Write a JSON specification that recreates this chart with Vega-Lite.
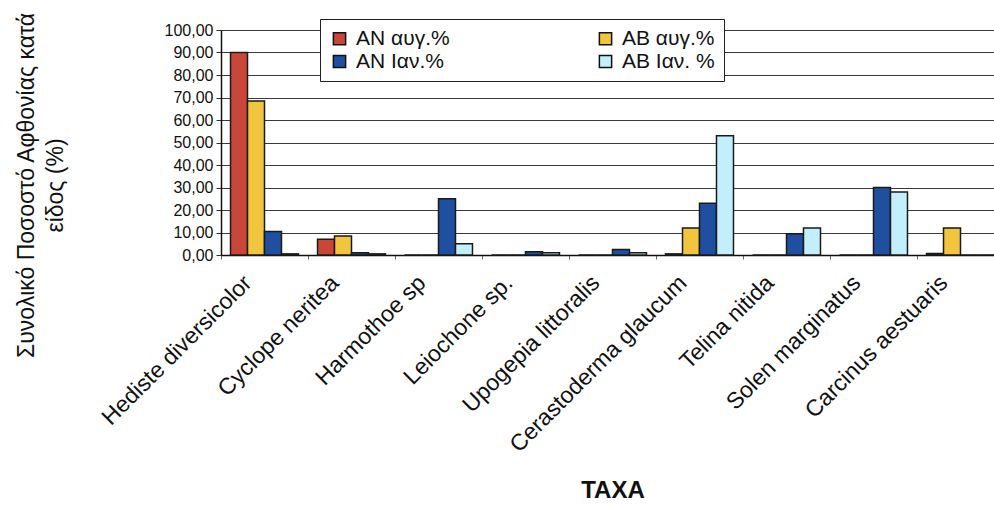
{
  "$schema": "https://vega.github.io/schema/vega-lite/v6.json",
  "width": 773,
  "height": 225,
  "autosize": {"type": "none"},
  "padding": {"left": 221, "top": 30, "right": 0, "bottom": 251},
  "background": "white",
  "config": {
    "locale": {"number": {"decimal": ",", "thousands": ".", "grouping": [3], "currency": ["", " €"]}},
    "view": {"stroke": null},
    "font": "Liberation Sans"
  },
  "data": {
    "values": [
      {"taxon": "Hediste diversicolor", "series": "AN αυγ.%", "value": 90},
      {"taxon": "Hediste diversicolor", "series": "AB αυγ.%", "value": 68.5},
      {"taxon": "Hediste diversicolor", "series": "AN Ιαν.%", "value": 10.5},
      {"taxon": "Hediste diversicolor", "series": "AB Ιαν. %", "value": 0.5},
      {"taxon": "Cyclope neritea", "series": "AN αυγ.%", "value": 7},
      {"taxon": "Cyclope neritea", "series": "AB αυγ.%", "value": 8.5},
      {"taxon": "Cyclope neritea", "series": "AN Ιαν.%", "value": 1},
      {"taxon": "Cyclope neritea", "series": "AB Ιαν. %", "value": 0.5},
      {"taxon": "Harmothoe sp", "series": "AN αυγ.%", "value": 0},
      {"taxon": "Harmothoe sp", "series": "AB αυγ.%", "value": 0},
      {"taxon": "Harmothoe sp", "series": "AN Ιαν.%", "value": 25},
      {"taxon": "Harmothoe sp", "series": "AB Ιαν. %", "value": 5},
      {"taxon": "Leiochone sp.", "series": "AN αυγ.%", "value": 0},
      {"taxon": "Leiochone sp.", "series": "AB αυγ.%", "value": 0},
      {"taxon": "Leiochone sp.", "series": "AN Ιαν.%", "value": 1.5},
      {"taxon": "Leiochone sp.", "series": "AB Ιαν. %", "value": 1},
      {"taxon": "Upogepia littoralis", "series": "AN αυγ.%", "value": 0},
      {"taxon": "Upogepia littoralis", "series": "AB αυγ.%", "value": 0},
      {"taxon": "Upogepia littoralis", "series": "AN Ιαν.%", "value": 2.5},
      {"taxon": "Upogepia littoralis", "series": "AB Ιαν. %", "value": 1},
      {"taxon": "Cerastoderma glaucum", "series": "AN αυγ.%", "value": 0.5},
      {"taxon": "Cerastoderma glaucum", "series": "AB αυγ.%", "value": 12},
      {"taxon": "Cerastoderma glaucum", "series": "AN Ιαν.%", "value": 23},
      {"taxon": "Cerastoderma glaucum", "series": "AB Ιαν. %", "value": 53},
      {"taxon": "Telina nitida", "series": "AN αυγ.%", "value": 0},
      {"taxon": "Telina nitida", "series": "AB αυγ.%", "value": 0},
      {"taxon": "Telina nitida", "series": "AN Ιαν.%", "value": 9.5},
      {"taxon": "Telina nitida", "series": "AB Ιαν. %", "value": 12},
      {"taxon": "Solen marginatus", "series": "AN αυγ.%", "value": 0},
      {"taxon": "Solen marginatus", "series": "AB αυγ.%", "value": 0},
      {"taxon": "Solen marginatus", "series": "AN Ιαν.%", "value": 30},
      {"taxon": "Solen marginatus", "series": "AB Ιαν. %", "value": 28},
      {"taxon": "Carcinus aestuaris", "series": "AN αυγ.%", "value": 0.7},
      {"taxon": "Carcinus aestuaris", "series": "AB αυγ.%", "value": 12},
      {"taxon": "Carcinus aestuaris", "series": "AN Ιαν.%", "value": 0},
      {"taxon": "Carcinus aestuaris", "series": "AB Ιαν. %", "value": 0}
    ]
  },
  "mark": {"type": "bar", "stroke": "#1a1a1a", "strokeWidth": 1.5},
  "encoding": {
    "x": {
      "field": "taxon",
      "type": "nominal",
      "sort": null,
      "scale": {"padding": 0, "range": [0, 783]},
      "axis": {
        "title": "TAXA",
        "titleFont": "Liberation Sans",
        "titleFontSize": 24,
        "titleFontWeight": "bold",
        "titleColor": "#111",
        "titleBaseline": "alphabetic",
        "titleY": 242,
        "labelAngle": -45,
        "labelAlign": "right",
        "labelBaseline": "middle",
        "labelFontSize": 23,
        "labelColor": "#111",
        "labelPadding": 20,
        "labelOffset": -17,
        "labelLimit": 400,
        "tickBand": "extent",
        "tickSize": 4,
        "tickColor": "#666",
        "domainColor": "#111",
        "domainWidth": 1.5,
        "grid": false
      }
    },
    "xOffset": {
      "field": "series",
      "type": "nominal",
      "sort": ["AN αυγ.%", "AB αυγ.%", "AN Ιαν.%", "AB Ιαν. %"],
      "scale": {"paddingInner": 0, "paddingOuter": 0.56}
    },
    "y": {
      "field": "value",
      "type": "quantitative",
      "scale": {"domain": [0, 100], "nice": false},
      "axis": {
        "title": ["Συνολικό Ποσοστό Αφθονίας κατά", "είδος (%)"],
        "titleFont": "Liberation Sans",
        "titleFontSize": 23,
        "titleFontWeight": "normal",
        "titleColor": "#111",
        "titleAngle": 270,
        "titleAlign": "center",
        "titleBaseline": "alphabetic",
        "titleLineHeight": 29,
        "titleX": -188,
        "titleY": 155,
        "values": [0, 10, 20, 30, 40, 50, 60, 70, 80, 90, 100],
        "format": ".2f",
        "labelFontSize": 16,
        "labelColor": "#111",
        "labelPadding": 3,
        "tickSize": 5,
        "tickColor": "#333",
        "domainColor": "#111",
        "domainWidth": 1.5,
        "grid": true,
        "gridColor": "#3a3a3a",
        "gridWidth": 1
      }
    },
    "color": {
      "field": "series",
      "type": "nominal",
      "scale": {
        "domain": ["AN αυγ.%", "AB αυγ.%", "AN Ιαν.%", "AB Ιαν. %"],
        "range": ["#c9473a", "#f2c53e", "#1f4f9e", "#c2effb"]
      },
      "legend": {
        "title": null,
        "orient": "none",
        "direction": "horizontal",
        "legendX": 99,
        "legendY": -11,
        "columns": 2,
        "columnPadding": 145,
        "rowPadding": 1,
        "padding": 9,
        "strokeColor": "#222",
        "fillColor": "white",
        "labelFontSize": 21,
        "labelColor": "#111",
        "labelOffset": 6,
        "symbolType": "square",
        "symbolSize": 150,
        "symbolStrokeColor": "#111",
        "symbolStrokeWidth": 1.5
      }
    }
  }
}
